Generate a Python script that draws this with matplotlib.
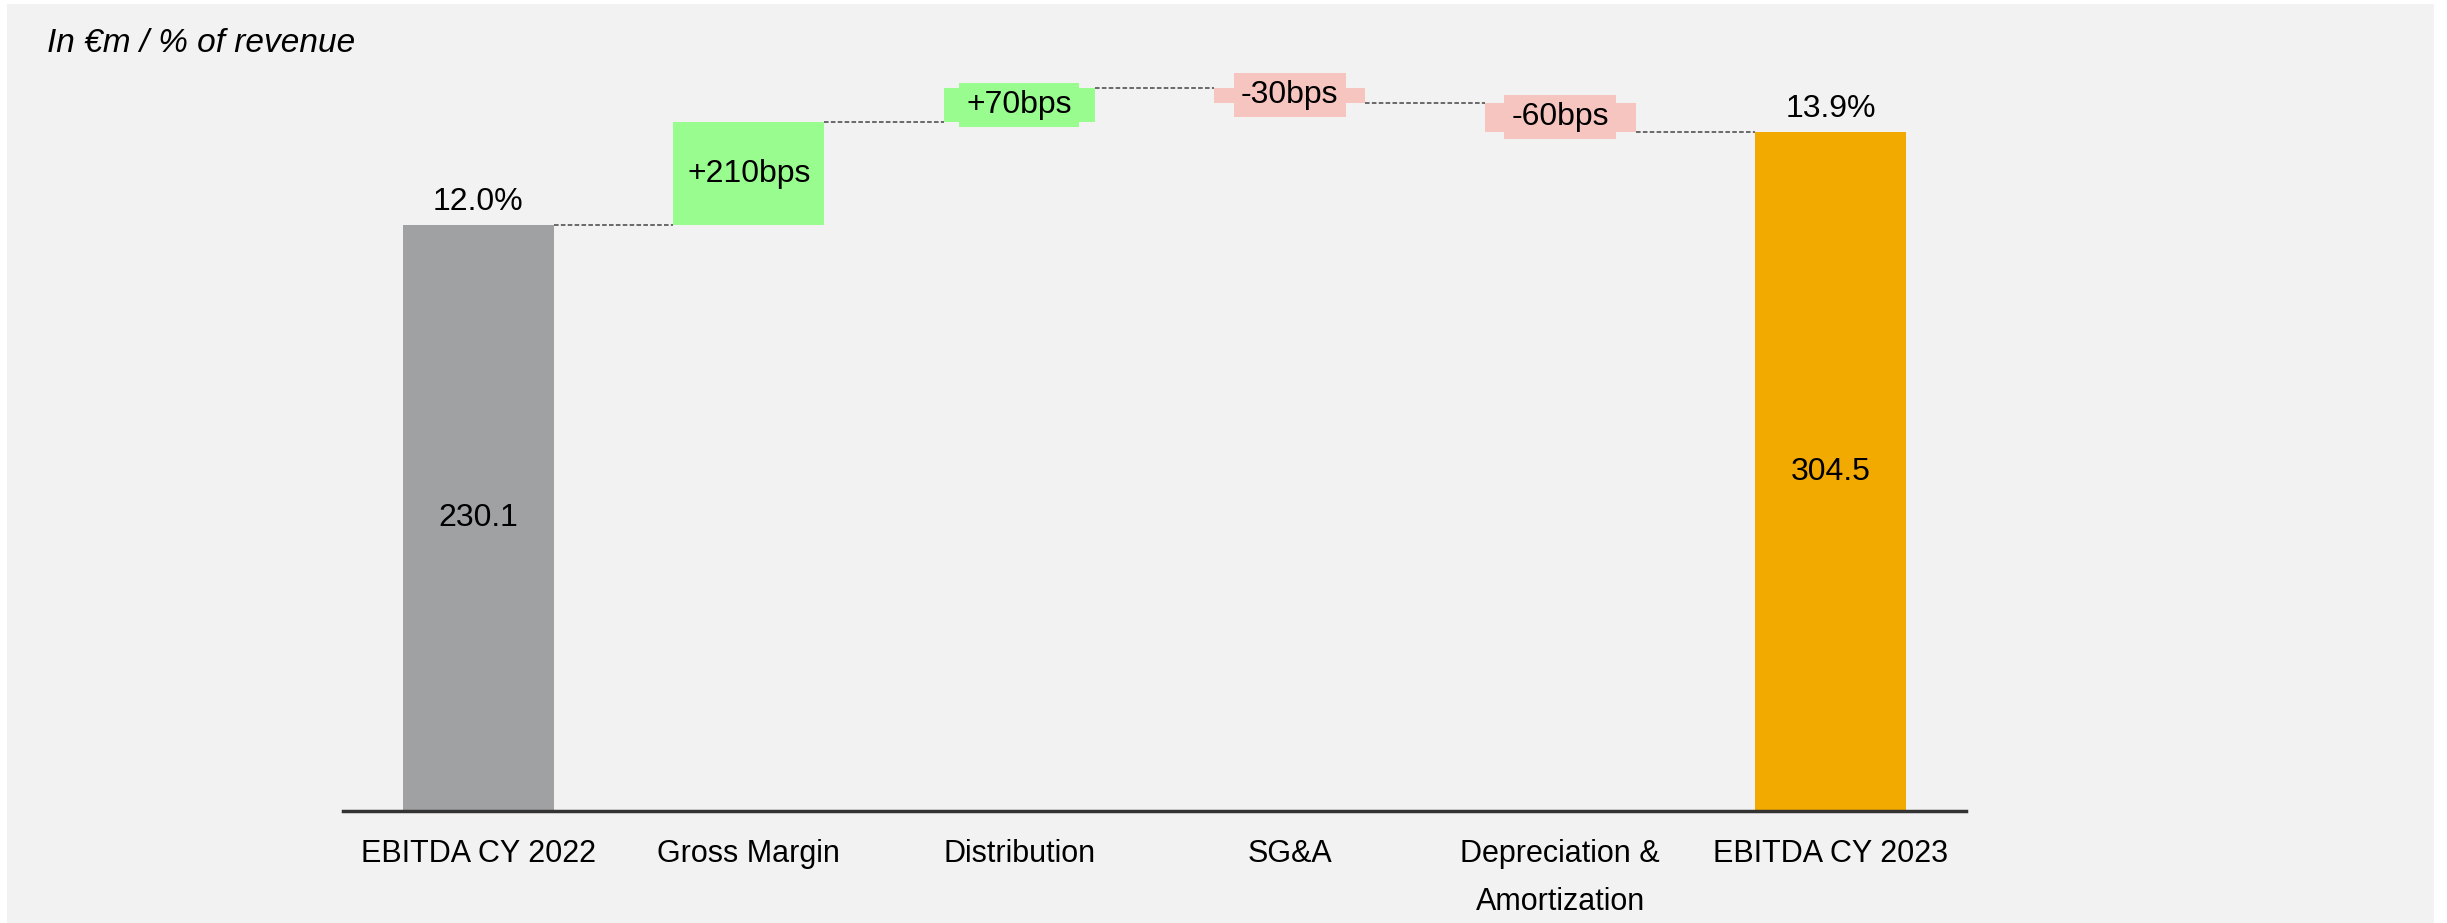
import matplotlib
matplotlib.use("Agg")
import matplotlib.pyplot as plt
from matplotlib.patches import Rectangle

plt.rcParams["font.family"] = ["Liberation Sans", "DejaVu Sans"]

# data
categories = ["EBITDA CY 2022", "Gross Margin", "Distribution", "SG&A",
              "Depreciation &\nAmortization", "EBITDA CY 2023"]
margin_start = 12.0          # % of revenue
margin_end = 13.9
deltas_bps = [210, 70, -30, -60]
delta_labels = ["+210bps", "+70bps", "-30bps", "-60bps"]
ebitda_values = [230.1, 304.5]  # EUR m

C_START = "#a0a1a3"
C_END = "#f2aa00"
C_UP = "#98fc8e"
C_DOWN = "#f7c5bf"
BG = "#f2f2f2"
FS = 23
W = 0.557

fig = plt.figure(figsize=(24.47, 9.23), dpi=100)
fig.patches.append(Rectangle((7 / 2447, 0), 2427 / 2447, 1 - 4 / 923,
                             transform=fig.transFigure, facecolor=BG,
                             edgecolor="none", zorder=-10))
ax = fig.add_axes([343 / 2447, 1 - 811 / 923, 1623 / 2447, (811 - 29.5) / 923])
ax.set_facecolor("none")
ax.set_xlim(-0.5, 5.5)
ax.set_ylim(0, 16)

# start bar
ax.bar(0, margin_start, width=W, color=C_START, zorder=2)
ax.text(0, margin_start / 2, f"{ebitda_values[0]:.1f}", ha="center", va="center", fontsize=FS)
ax.annotate(f"{margin_start:.1f}%", (0, margin_start), xytext=(0, 6),
            textcoords="offset points", ha="center", va="bottom", fontsize=FS)

level = margin_start
prev_x = 0
for i, (d, lab) in enumerate(zip(deltas_bps, delta_labels), start=1):
    dv = d / 100
    col = C_UP if d > 0 else C_DOWN
    bottom = level if d > 0 else level + dv
    ax.bar(i, abs(dv), bottom=bottom, width=W, color=col, zorder=2)
    ax.plot([prev_x + W / 2, i - W / 2], [level, level], color="#444444",
            lw=1.1, ls=(0, (3, 1.5)), zorder=1)
    ax.text(i, bottom + abs(dv) / 2, lab, ha="center", va="center", fontsize=FS,
            zorder=3, bbox=dict(boxstyle="square,pad=0.22", fc=col, ec="none"))
    level += dv
    prev_x = i

# end bar
n = len(categories) - 1
ax.plot([prev_x + W / 2, n - W / 2], [level, level], color="#444444",
        lw=1.1, ls=(0, (3, 1.5)), zorder=1)
ax.bar(n, margin_end, width=W, color=C_END, zorder=2)
ax.text(n, margin_end / 2, f"{ebitda_values[1]:.1f}", ha="center", va="center", fontsize=FS)
ax.annotate(f"{margin_end:.1f}%", (n, margin_end), xytext=(0, 6),
            textcoords="offset points", ha="center", va="bottom", fontsize=FS)

ax.set_xticks(range(len(categories)))
ax.set_xticklabels(categories, fontsize=22, linespacing=1.8)
ax.tick_params(axis="x", length=0, pad=20)
ax.set_yticks([])
for s in ["left", "right", "top"]:
    ax.spines[s].set_visible(False)
ax.spines["bottom"].set_color("#333333")
ax.spines["bottom"].set_linewidth(2.5)

fig.text(47 / 2447, 1 - 44 / 923, "In €m / % of revenue", fontsize=24,
         style="italic", va="center", ha="left")

fig.savefig("out.png", dpi=100, facecolor="white")
